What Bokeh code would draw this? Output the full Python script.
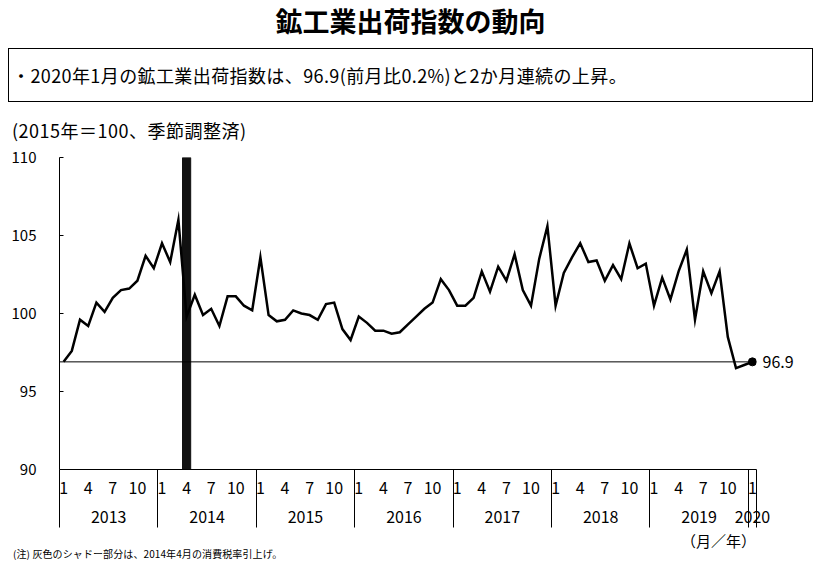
from bokeh.plotting import figure
from bokeh.models import FixedTicker, LinearAxis, Span, Div, Range1d
from bokeh.layouts import column
from bokeh.embed import file_html
from bokeh.resources import INLINE

# ---- data (2015=100, seasonally adjusted) ----
years = [2013, 2014, 2015, 2016, 2017, 2018, 2019, 2020]
v2013 = [96.9, 97.6, 99.6, 99.2, 100.7, 100.1, 101.0, 101.5, 101.6, 102.1, 103.7, 102.9]
v2014 = [104.5, 103.3, 106.0, 99.8, 101.2, 99.9, 100.3, 99.2, 101.1, 101.1, 100.5, 100.2]
v2015 = [103.6, 99.9, 99.5, 99.6, 100.2, 100.0, 99.9, 99.6, 100.6, 100.7, 99.0, 98.3]
v2016 = [99.8, 99.4, 98.9, 98.9, 98.7, 98.8, 99.3, 99.8, 100.3, 100.7, 102.2, 101.5]
v2017 = [100.5, 100.5, 101.0, 102.7, 101.4, 103.0, 102.1, 103.8, 101.5, 100.5, 103.5, 105.6]
v2018 = [100.5, 102.6, 103.6, 104.5, 103.3, 103.4, 102.1, 103.1, 102.2, 104.5, 102.9, 103.2]
v2019 = [100.5, 102.3, 100.9, 102.7, 104.1, 99.6, 102.7, 101.3, 102.7, 98.5, 96.5, 96.7]
v2020 = [96.9]
month_labels = [1, 4, 7, 10]
y_ticks = [90, 95, 100, 105, 110]
event_year, event_month = 2014, 4

title_text = "鉱工業出荷指数の動向"
summary_text = "・2020年1月の鉱工業出荷指数は、96.9(前月比0.2%)と2か月連続の上昇。"
unit_text = "(2015年＝100、季節調整済)"
axis_unit_text = "（月／年）"
note_text = "(注) 灰色のシャドー部分は、2014年4月の消費税率引上げ。"

series = [v2013, v2014, v2015, v2016, v2017, v2018, v2019, v2020]
values = [v for ys in series for v in ys]
xs = list(range(len(values)))
n = len(values)

FONT = "Noto Sans CJK JP"

# month ticks, year centres, year boundaries
month_ticks, overrides = [], {}
year_centers, year_over = [], {}
bounds = []
for k, (yr, ys) in enumerate(zip(years, series)):
    start = 12 * k
    bounds.append(start - 0.5)
    for m in month_labels:
        if m <= len(ys):
            month_ticks.append(start + m - 1)
            overrides[start + m - 1] = str(m)
    c = start + (len(ys) - 1) / 2
    year_centers.append(c)
    year_over[c] = str(yr)
bounds.append(n - 0.5)

event_x = 12 * years.index(event_year) + event_month - 1

p = figure(width=805, height=387, output_backend="svg", toolbar_location=None,
           x_range=Range1d(-0.5, n - 0.5), y_range=Range1d(y_ticks[0], y_ticks[-1]),
           min_border_left=51, min_border_right=57, min_border_top=15, min_border_bottom=60,
           margin=0)
p.outline_line_color = None
p.xgrid.visible = False
p.ygrid.visible = False
p.background_fill_color = "white"
p.border_fill_color = "white"

# event bar (consumption tax hike)
p.vbar(x=[event_x], bottom=[y_ticks[0]], top=[y_ticks[-1]], width=1, color="#111111")

# reference line at latest value
p.add_layout(Span(location=values[-1], dimension="width", line_color="black", line_width=1))

p.line(xs, values, line_color="black", line_width=2.5, line_join="miter")
p.scatter([xs[-1]], [values[-1]], size=8, color="black")

# y axis
ya = p.yaxis[0]
ya.ticker = FixedTicker(ticks=y_ticks)
ya.major_tick_in = 4
ya.major_tick_out = 0
ya.minor_tick_line_color = None
ya.major_tick_line_color = "black"
ya.axis_line_color = "black"
ya.major_label_standoff = 23
ya.major_label_text_font = FONT
ya.major_label_text_font_size = "15px"
ya.major_label_text_color = "black"

# right axis carrying the latest-value label
ra = LinearAxis(ticker=FixedTicker(ticks=[values[-1]]),
                major_label_overrides={values[-1]: f"{values[-1]:.1f}"})
ra.axis_line_color = None
ra.major_tick_line_color = None
ra.minor_tick_line_color = None
ra.major_tick_out = 0
ra.major_tick_in = 0
ra.major_label_standoff = 6
ra.major_label_text_font = FONT
ra.major_label_text_font_size = "16px"
ra.major_label_text_color = "black"
p.add_layout(ra, "right")

# month axis; year separators drawn as long minor ticks
xa = p.xaxis[0]
xa.ticker = FixedTicker(ticks=month_ticks, minor_ticks=bounds)
xa.major_label_overrides = overrides
xa.major_tick_out = 0
xa.major_tick_in = 0
xa.major_tick_line_color = None
xa.minor_tick_in = 0
xa.minor_tick_out = 58
xa.minor_tick_line_color = "black"
xa.minor_tick_line_width = 1
xa.axis_line_color = "black"
xa.major_label_standoff = -46
xa.major_label_text_font = FONT
xa.major_label_text_font_size = "16px"
xa.major_label_text_color = "black"

# year axis
yax = LinearAxis(ticker=FixedTicker(ticks=year_centers, minor_ticks=[]),
                 major_label_overrides=year_over)
yax.axis_line_color = None
yax.major_tick_line_color = None
yax.minor_tick_line_color = None
yax.major_tick_out = 0
yax.major_tick_in = 0
yax.major_label_standoff = 14
yax.major_label_text_font = FONT
yax.major_label_text_font_size = "16px"
yax.major_label_text_color = "black"
p.add_layout(yax, "below")

title_div = Div(text=f'<div style="width:805px;text-align:center;font-family:\'{FONT}\';'
                     f'font-size:27px;font-weight:bold;line-height:26px;color:#000">{title_text}</div>',
                width=805, height=40, margin=0)
box_div = Div(text=f'<div style="box-sizing:border-box;width:805px;height:54px;border:1px solid #000;'
                   f'font-family:\'{FONT}\';font-size:18px;line-height:52px;padding-left:3px;'
                   f'letter-spacing:0.4px;white-space:nowrap;color:#000">{summary_text}</div>',
              width=805, height=54, margin=0)
unit_div = Div(text=f'<div style="padding-top:19px;padding-left:4px;font-family:\'{FONT}\';font-size:18px;'
                    f'line-height:18px;letter-spacing:0.5px;white-space:nowrap;color:#000">{unit_text}</div>',
               width=805, height=40, margin=0)
bottom_div = Div(text=f'<div style="width:805px;height:31px;overflow:hidden;font-family:\'{FONT}\';color:#000">'
                      f'<div style="box-sizing:border-box;width:805px;padding-top:5px;padding-right:57px;'
                      f'height:19px;line-height:14px;font-size:15px;text-align:right;white-space:nowrap">'
                      f'{axis_unit_text}</div>'
                      f'<div style="box-sizing:border-box;width:805px;padding-top:1px;padding-left:5px;'
                      f'height:12px;line-height:10px;font-size:10px;letter-spacing:0.1px;white-space:nowrap">'
                      f'{note_text}</div>'
                      f'</div>',
                 width=805, height=31, margin=0)

layout = column(title_div, box_div, unit_div, p, bottom_div, spacing=0, margin=(8, 0, 0, 8))

open("out.html", "w").write(file_html(layout, INLINE))
